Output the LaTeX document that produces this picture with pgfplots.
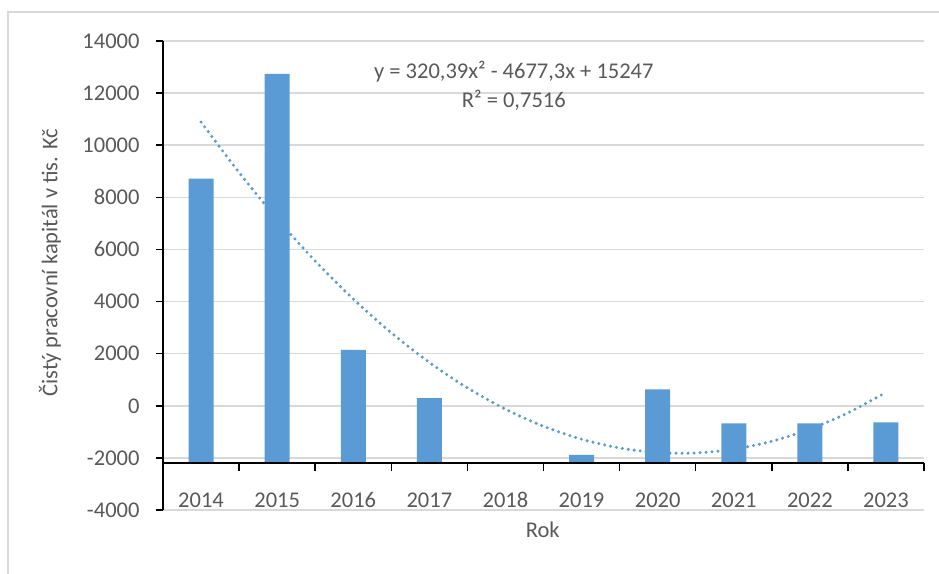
\documentclass[border=0pt]{standalone}
\usepackage{pgfplots}
\pgfplotsset{compat=1.18}
\usepackage{fontspec}
\setmainfont{Carlito}
\definecolor{barblue}{RGB}{91,155,213}
\definecolor{txt}{RGB}{89,89,89}
\definecolor{grd}{RGB}{217,217,217}
\begin{document}
\begin{tikzpicture}
\useasboundingbox (0,0) rectangle (939bp,574bp);
\draw[grd, line width=1.5bp] (8bp,-2bp) -- (8bp,562bp) -- (941bp,562bp);
\begin{axis}[
  at={(163bp,64bp)}, anchor=south west,
  scale only axis, width=761bp, height=469bp,
  xmin=0.5, xmax=10.5, ymin=-4000, ymax=14000,
  y coord trafo/.code={\pgfmathparse{#1+2200}},
  y coord inv trafo/.code={\pgfmathparse{#1-2200}},
  scaled y ticks=false,
  axis y line*=left, axis x line*=bottom,
  x axis line style={draw=none},
  y axis line style={black, line width=1.6bp},
  xtick={1,2,3,4,5,6,7,8,9,10},
  xticklabels={2014,2015,2016,2017,2018,2019,2020,2021,2022,2023},
  xtick style={draw=none},
  xticklabel style={anchor=center, yshift=17bp},
  ytick={-4000,-2000,0,2000,4000,6000,8000,10000,12000,14000},
  yticklabels={-4000,-2000,0,2000,4000,6000,8000,10000,12000,14000},
  yticklabel style={xshift=-13bp},
  ytick style={black, line width=1.5bp},
  tick align=outside, major tick length=7bp,
  ymajorgrids, major grid style={grd, line width=1.5bp},
  ticklabel style={font=\fontsize{22.5bp}{26bp}\selectfont, text=txt},
  ylabel={Čistý pracovní kapitál v tis. Kč},
  ylabel style={at={(axis description cs:-0.1485,0.527)}, anchor=center, font=\fontsize{22.5bp}{26bp}\selectfont, text=txt},
  xlabel={Rok},
  xlabel style={at={(axis description cs:0.499,-0.0426)}, anchor=center, font=\fontsize{22.5bp}{26bp}\selectfont, text=txt},
]
\addplot[ybar, bar width=25bp, fill=barblue, draw=none] coordinates {
 (1,8716) (2,12735) (3,2141) (4,290) (5,-2200) (6,-1888) (7,633) (8,-672) (9,-672) (10,-633)
};
\addplot[barblue, line width=3.4bp, line cap=round, dash pattern=on 0bp off 6bp, smooth] coordinates {
 (1,10890.09) (1.5,8951.93) (2,7173.96) (2.5,5556.19) (3,4098.61) (3.5,2801.23) (4,1664.04) (4.5,687.05)
 (5,-129.75) (5.5,-786.35) (6,-1282.76) (6.5,-1618.97) (7,-1794.99) (7.5,-1810.81) (8,-1666.44)
 (8.5,-1361.87) (9,-897.11) (9.5,-272.15) (10,513.00)
};
\node[text=txt, font=\fontsize{22.5bp}{26bp}\selectfont] at (axis description cs:0.461,0.934) {y = 320,39x² - 4677,3x + 15247};
\node[text=txt, font=\fontsize{22.5bp}{26bp}\selectfont] at (axis description cs:0.461,0.874) {R² = 0,7516};
\end{axis}
\begin{axis}[
  at={(163bp,110.9bp)}, anchor=south west,
  scale only axis, width=761bp, height=422.1bp,
  xmin=0.5, xmax=10.5, ymin=0, ymax=1,
  axis y line=none, axis x line*=bottom,
  x axis line style={black, line width=1.6bp},
  xtick={1.5,2.5,3.5,4.5,5.5,6.5,7.5,8.5,9.5,10.5},
  xticklabels={},
  xtick style={black, line width=1.5bp},
  tick align=outside, major tick length=8bp,
]
\end{axis}
\end{tikzpicture}
\end{document}
